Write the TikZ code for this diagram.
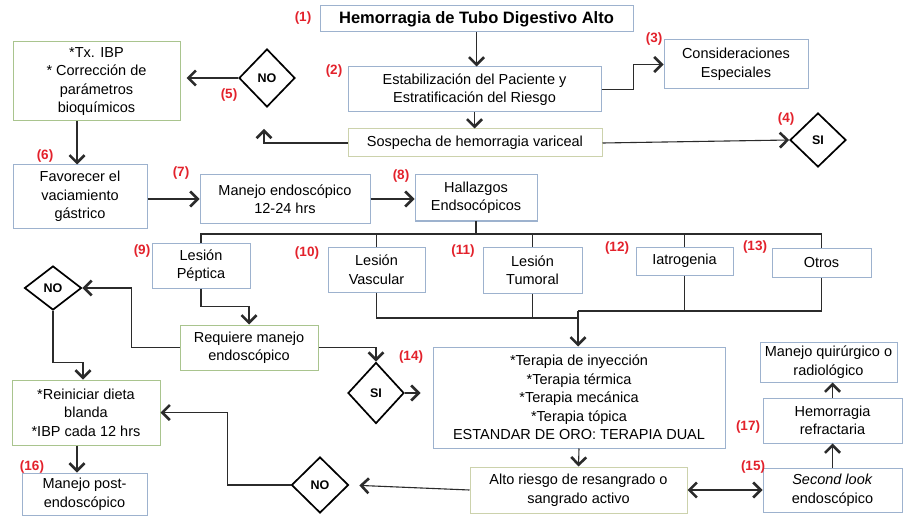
\documentclass[tikz,border=0pt]{standalone}
\usepackage{fontspec}
\setmainfont{Liberation Sans}
\usetikzlibrary{arrows.meta,shapes.geometric,calc}
\definecolor{bluebd}{HTML}{9DB2CE}
\definecolor{greenbd}{HTML}{A9C48E}
\definecolor{beigebd}{HTML}{CCD2AC}
\definecolor{lbl}{HTML}{E3212B}
\definecolor{ln}{HTML}{2B2B2B}
\begin{document}
\begin{tikzpicture}[x=1pt,y=-1pt,
 box/.style={draw=bluebd, line width=1pt, align=center, inner sep=0pt, font=\fontsize{14.5}{18.5}\selectfont, text=black},
 gbox/.style={box, draw=greenbd},
 ybox/.style={box, draw=beigebd},
 dia/.style={draw=black, line width=1.7pt, diamond, inner sep=0pt, font=\bfseries\fontsize{12.5}{12.5}\selectfont},
 lab/.style={text=lbl, font=\bfseries\fontsize{13.5}{13.5}\selectfont, inner sep=0pt},
 conn/.style={draw=ln, line width=1.1pt},
 tipk/.tip={Straight Barb[length=7.5pt,width=15pt,line width=2.6pt]},
 arr/.style={conn, -tipk},
 darr/.style={conn, tipk-tipk},
]
\useasboundingbox (0,0) rectangle (911,516);
\fill[white] (0,0) rectangle (911,516);

% boxes
\node[box, minimum width=313pt, minimum height=26pt, font=\bfseries\fontsize{16.5}{19}\selectfont] (b1) at (476.5,19) {Hemorragia de Tubo Digestivo Alto};
\node[box, minimum width=253pt, minimum height=45pt] (b2) at (474.5,89.5) {Estabilización del Paciente y\\Estratificación del Riesgo};
\node[box, minimum width=144pt, minimum height=49pt] (b3) at (736,64.5) {Consideraciones\\Especiales};
\node[ybox, minimum width=254pt, minimum height=28pt] (sosp) at (475,143) {Sospecha de hemorragia variceal};
\node[dia, minimum width=56pt, minimum height=54pt] (d4) at (818,140) {SI};
\node[dia, minimum width=56pt, minimum height=58pt] (d5) at (267,78) {NO};
\node[gbox, minimum width=167pt, minimum height=79pt] (tx) at (96.5,81.5) {*Tx. IBP\\* Corrección de\\parámetros\\bioquímicos};
\node[box, minimum width=134pt, minimum height=63pt] (b6) at (80,196.5) {Favorecer el\\vaciamiento\\gástrico};
\node[box, minimum width=170pt, minimum height=48pt] (b7) at (285,199) {Manejo endoscópico\\12-24 hrs};
\node[box, minimum width=122pt, minimum height=46pt] (b8) at (476,198) {Hallazgos\\Endsocópicos};
\node[box, minimum width=98pt, minimum height=45pt] (b9) at (201,265.5) {Lesión\\Péptica};
\node[box, minimum width=97pt, minimum height=45pt] (b10) at (376.5,269.5) {Lesión\\Vascular};
\node[box, minimum width=99pt, minimum height=46pt] (b11) at (532.5,270) {Lesión\\Tumoral};
\node[box, minimum width=97pt, minimum height=28pt] (b12) at (684.5,261) {Iatrogenia};
\node[box, minimum width=99pt, minimum height=29pt] (b13) at (821.5,262.5) {Otros};
\node[gbox, minimum width=138pt, minimum height=45pt] (req) at (249,347.5) {Requiere manejo\\endoscópico};
\node[dia, minimum width=57pt, minimum height=44pt] (dNO2) at (53,288) {NO};
\node[dia, minimum width=56pt, minimum height=61pt] (dSI2) at (376,393) {SI};
\node[box, minimum width=292pt, minimum height=101pt] (b14) at (579,397.5) {*Terapia de inyección\\*Terapia térmica\\*Terapia mecánica\\*Terapia tópica\\ESTANDAR DE ORO: TERAPIA DUAL};
\node[gbox, minimum width=148pt, minimum height=65pt] (rein) at (86,412.5) {*Reiniciar dieta\\blanda\\*IBP cada 12 hrs};
\node[box, minimum width=125pt, minimum height=42pt] (b16) at (84.5,494) {Manejo post-\\endoscópico};
\node[dia, minimum width=57pt, minimum height=56pt] (dNO3) at (320,485) {NO};
\node[ybox, minimum width=217pt, minimum height=46pt] (alto) at (578.5,490) {Alto riesgo de resangrado o\\sangrado activo};
\node[box, minimum width=139pt, minimum height=44pt] (sl) at (832.5,490) {\textit{Second look}\\endoscópico};
\node[box, minimum width=139pt, minimum height=45pt] (refr) at (832.5,420.5) {Hemorragia\\refractaria};
\node[box, minimum width=137pt, minimum height=40pt] (quir) at (828.5,362) {Manejo quirúrgico o\\radiológico};

% labels
\node[lab] (l1) at (303,18) {(1)};
\node[lab] (l2) at (334,71) {(2)};
\node[lab] (l3) at (654,39) {(3)};
\node[lab] (l4) at (786,119) {(4)};
\node[lab] (l5) at (229,95) {(5)};
\node[lab] (l6) at (45,156) {(6)};
\node[lab] (l7) at (181,173) {(7)};
\node[lab] (l8) at (401,176) {(8)};
\node[lab] (l9) at (142,251) {(9)};
\node[lab] (l10) at (307,253) {(10)};
\node[lab] (l11) at (463,251) {(11)};
\node[lab] (l12) at (617,248) {(12)};
\node[lab] (l13) at (755,247) {(13)};
\node[lab] (l14) at (411,357) {(14)};
\node[lab] (l15) at (753,467) {(15)};
\node[lab] (l16) at (32,467) {(16)};
\node[lab] (l17) at (748,427) {(17)};

% coordinates
\coordinate (hub) at (476,234);
\coordinate (m1) at (578,311);
\coordinate (m2) at (578,318);

% connectors
\draw[arr] (b1.south) -- (b1.south |- b2.north);
\draw[arr] (b2.east) -- ++(32,0) |- (b3.west);
\draw[arr] (b2.south) -- (b2.south |- sosp.north);
\draw[arr] (sosp.east) -- (d4.west);
\draw[arr] (sosp.west) -| ([shift={(-3pt,-21pt)}]d5.south);
\draw[arr, shorten >=6pt] (d5.west) -- (d5.west -| tx.east);
\draw[arr] ([xshift=-19.5pt]tx.south) -- ([xshift=-19.5pt]tx.south |- b6.north);
\draw[arr] (b6.east |- b7.west) -- (b7.west);
\draw[arr] (b7.east) -- (b7.east -| b8.west);
\draw[conn] (b8.south) -- (hub);
\draw[conn] (b9.north) |- (hub) -| (b13.north);
\draw[conn] (b10.north) -- (b10.north |- hub);
\draw[conn] (b11.north) -- (b11.north |- hub);
\draw[conn] (b12.north) -- (b12.north |- hub);
\draw[conn] (b10.south) |- (m2);
\draw[conn] (b11.south) -- (b11.south |- m2);
\draw[conn] (m1) -| (b12.south);
\draw[conn] (b12.south |- m1) -| (b13.south);
\draw[arr] (m2) -- (m1 |- b14.north);
\draw[conn] (m1) -- (m2);
\draw[arr] (b9.south) -- ++(0,18) -| (req.north);
\draw[arr] (req.west) -- ++(-48,0) |- (dNO2.east);
\draw[arr] (dNO2.south) -- ++(0,52) -| ([xshift=-3pt]rein.north);
\draw[arr] (req.east) -| (dSI2.north);
\draw[arr, shorten >=12pt] (dSI2.east) -- (dSI2.east -| b14.west);
\draw[arr] (b14.south) -- (alto.north);
\draw[arr, shorten >=10pt] (alto.west) -- (dNO3.east);
\draw[arr] (dNO3.west) -- ++(-63.5,0) |- (rein.east);
\draw[arr] ([xshift=-9pt]rein.south) -- ([xshift=-9pt]rein.south |- b16.north);
\draw[darr] (alto.east) -- (sl.west);
\draw[arr] (sl.north) -- (refr.south);
\draw[arr] (refr.north) -- (refr.north |- quir.south);
\end{tikzpicture}
\end{document}
